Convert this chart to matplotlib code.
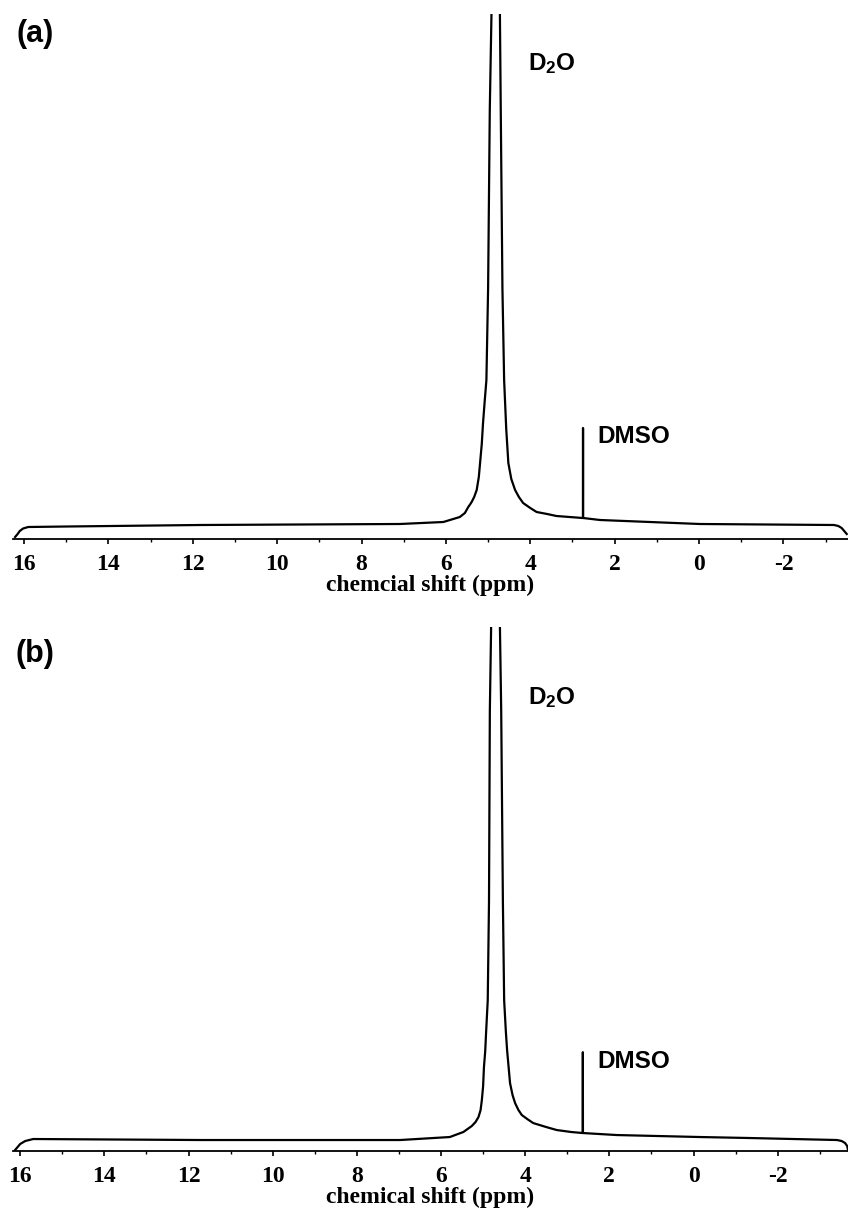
import matplotlib
matplotlib.use("Agg")
import matplotlib.pyplot as plt
from matplotlib.ticker import MultipleLocator

plt.rcParams['mathtext.fontset'] = 'custom'
plt.rcParams['mathtext.bf'] = 'Liberation Sans:bold'
plt.rcParams['mathtext.rm'] = 'Liberation Sans:bold'
plt.rcParams['axes.unicode_minus'] = False

# spectrum (a): chemical shift (ppm) vs intensity (a.u.)
ppm_a = [16.21, 16.15, 16.10, 16.02, 15.90, 14.98, 11.83, 9.5, 7.09, 6.06, 5.67, 5.55,
         5.47, 5.42, 5.39, 5.33, 5.27, 5.22, 5.19, 5.15, 5.12, 5.08, 5.04, 5.00,
         4.96, 4.92, 4.83, 4.72, 4.70, 4.66, 4.62, 4.57, 4.52, 4.45, 4.36, 4.27,
         4.17, 4.00, 3.85, 3.60, 3.38, 2.76, 2.752, 2.75, 2.748, 2.35, -0.02, -3.20,
         -3.30, -3.38, -3.44, -3.50]
int_a = [2, 5, 8, 10.5, 12, 12.5, 14, 14.5, 15, 17, 22, 26,
         32, 35, 37, 42, 49, 62, 76, 95, 116, 138, 159, 250,
         429, 525, 8000, 525, 429, 250, 159, 110, 76, 60, 49, 42,
         36, 31, 27, 25, 23, 21, 21, 111, 21, 19, 15, 14,
         13, 11, 8, 5]

# spectrum (b)
ppm_b = [16.12, 16.08, 16.00, 15.88, 15.69, 11.72, 6.97, 5.79, 5.60, 5.47, 5.37, 5.27,
         5.18, 5.11, 5.06, 5.03, 5.00, 4.98, 4.95, 4.93, 4.89, 4.86, 4.84, 4.81,
         4.71, 4.60, 4.57, 4.53, 4.50, 4.46, 4.43, 4.36, 4.30, 4.24, 4.16, 4.08,
         3.95, 3.81, 3.50, 3.25, 2.90, 2.632, 2.63, 2.628, 1.83, -0.15, -1.34, -3.41,
         -3.52, -3.60, -3.65, -3.67]
int_b = [1, 3, 7, 10, 12, 11, 11, 14, 17, 19, 22, 25,
         29, 34, 41, 51, 65, 84, 100, 118, 151, 250, 441, 524,
         8000, 524, 441, 250, 151, 120, 101, 68, 56, 48, 41, 36,
         32, 28, 24, 21, 19, 18, 99, 18, 16, 14, 13, 11,
         10, 8, 5, 1]

W, H = 848, 1218
fig = plt.figure(figsize=(W / 100, H / 100), dpi=100)


def panel(rect, ppm, inten, xlim, xlabel):
    ax = fig.add_axes(rect)
    ax.plot(ppm, inten, color='black', lw=1.6, solid_joinstyle='round')
    ax.set_xlim(*xlim)
    ax.set_ylim(0, 525)
    for s in ['top', 'left', 'right']:
        ax.spines[s].set_visible(False)
    ax.spines['bottom'].set_linewidth(1.3)
    ax.set_yticks([])
    ax.xaxis.set_major_locator(MultipleLocator(2))
    ax.xaxis.set_minor_locator(MultipleLocator(1))
    ax.tick_params(axis='x', which='major', direction='out', length=3.5, width=1.2, pad=7)
    ax.tick_params(axis='x', which='minor', direction='out', length=2, width=1)
    for lab in ax.get_xticklabels():
        lab.set_fontfamily('Liberation Serif')
        lab.set_fontweight('bold')
        lab.set_fontsize(17)
    ax.set_xlabel(xlabel, family='Liberation Serif', weight='bold', fontsize=17, labelpad=0)
    return ax


panel([13 / W, 1 - 539 / H, 1 - 13 / W, 525 / H], ppm_a, int_a, (16.26, -3.53),
      'chemcial shift (ppm)')
panel([13 / W, 1 - 1151 / H, 1 - 13 / W, 524 / H], ppm_b, int_b, (16.17, -3.67),
      'chemical shift (ppm)')

lab_kw = dict(family='Liberation Sans', weight='bold')
fig.text(35 / W, 1 - 34 / H, '(a)', ha='center', va='center', fontsize=22, **lab_kw)
fig.text(35 / W, 1 - 654 / H, '(b)', ha='center', va='center', fontsize=22, **lab_kw)
fig.text(528 / W, 1 - 70 / H, r'$\mathbf{D_2O}$', ha='left', va='baseline', fontsize=17.5)
fig.text(528 / W, 1 - 704 / H, r'$\mathbf{D_2O}$', ha='left', va='baseline', fontsize=17.5)
fig.text(597 / W, 1 - 443 / H, 'DMSO', ha='left', va='baseline', fontsize=17.5, **lab_kw)
fig.text(597 / W, 1 - 1068 / H, 'DMSO', ha='left', va='baseline', fontsize=17.5, **lab_kw)

fig.savefig('out.png', dpi=100)
